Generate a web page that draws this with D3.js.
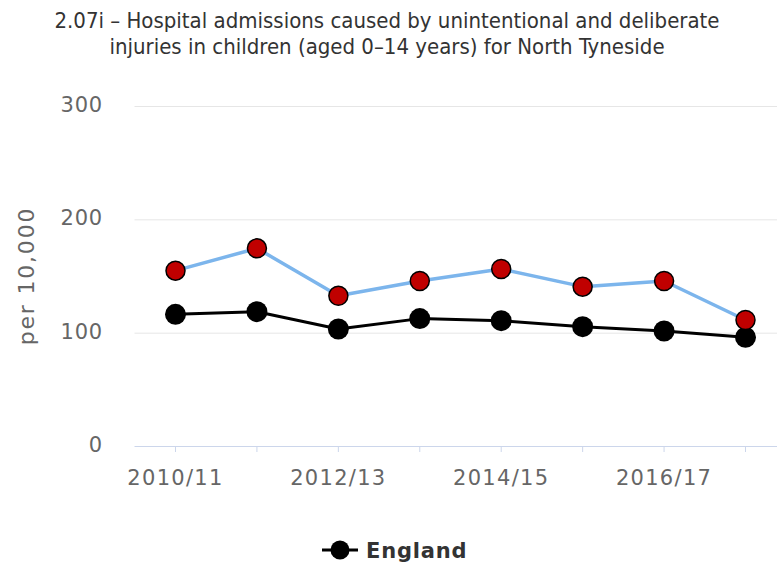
<!DOCTYPE html>
<html><head><meta charset="utf-8">
<script src="https://cdn.jsdelivr.net/npm/d3@7"></script>
<style>body{margin:0;background:#fff}svg{display:block}</style>
</head><body>
<svg id="c" width="777" height="566"></svg>
<script>
const categories = ["2010/11","2011/12","2012/13","2013/14","2014/15","2015/16","2016/17","2017/18"];
const northTyneside = [154.7,174.4,132.6,145.6,156.2,140.6,145.6,111.2];
const england = [116.2,118.5,103.2,112.4,110.6,105.3,101.5,95.9];
const yTicks = [0,100,200,300];
const titleLines = ["2.07i \u2013 Hospital admissions caused by unintentional and deliberate","injuries in children (aged 0\u201314 years) for North Tyneside"];

const svg = d3.select("#c");
const font = "'DejaVu Sans', Verdana, sans-serif";
const x = d3.scalePoint().domain(categories).range([175.5, 745.5]);
const y = d3.scaleLinear().domain([0,300]).range([446,106]);
const plotLeft = 134.5, plotRight = 777;

// title
svg.append("g").selectAll("text").data(titleLines).join("text")
  .attr("x",387).attr("y",(d,i)=>28+i*26).attr("text-anchor","middle")
  .attr("font-family",font).attr("font-stretch","condensed").attr("font-size",22).attr("fill","#333").text(d=>d);

// grid
svg.append("g").selectAll("line").data(yTicks.filter(d=>d>0)).join("line")
  .attr("x1",plotLeft).attr("x2",plotRight).attr("y1",d=>y(d)+0.5).attr("y2",d=>y(d)+0.5)
  .attr("stroke","#e6e6e6").attr("stroke-width",1);

// y labels
svg.append("g").selectAll("text").data(yTicks).join("text")
  .attr("x",103).attr("y",d=>y(d)+6).attr("text-anchor","end").attr("letter-spacing",0.8)
  .attr("font-family",font).attr("font-size",21).attr("fill","#666").text(d=>d);

// y title
svg.append("text").attr("transform","translate(34,276) rotate(-90)").attr("text-anchor","middle")
  .attr("letter-spacing",1.8)
  .attr("font-family",font).attr("font-size",22).attr("fill","#666").text("per 10,000");

// x axis
svg.append("line").attr("x1",plotLeft).attr("x2",plotRight).attr("y1",446.5).attr("y2",446.5)
  .attr("stroke","#ccd6eb").attr("stroke-width",1);
svg.append("g").selectAll("line").data(categories).join("line")
  .attr("x1",d=>x(d)).attr("x2",d=>x(d)).attr("y1",447).attr("y2",452)
  .attr("stroke","#ccd6eb").attr("stroke-width",1);
svg.append("g").selectAll("text").data(categories.filter((d,i)=>i%2===0)).join("text")
  .attr("x",d=>x(d)).attr("y",485).attr("text-anchor","middle").attr("letter-spacing",1.3)
  .attr("font-family",font).attr("font-size",21).attr("fill","#666").text(d=>d);

const line = d3.line().x((d,i)=>x(categories[i])).y(d=>y(d));

// England
svg.append("path").datum(england).attr("d",line).attr("fill","none").attr("stroke","#000").attr("stroke-width",3).attr("stroke-linejoin","round");
svg.append("g").selectAll("circle").data(england).join("circle")
  .attr("cx",(d,i)=>x(categories[i])).attr("cy",d=>y(d)).attr("r",10.5).attr("fill","#000");

// North Tyneside
svg.append("path").datum(northTyneside).attr("d",line).attr("fill","none").attr("stroke","#7cb5ec").attr("stroke-width",3.5).attr("stroke-linejoin","round");
svg.append("g").selectAll("circle").data(northTyneside).join("circle")
  .attr("cx",(d,i)=>x(categories[i])).attr("cy",d=>y(d)).attr("r",9.5).attr("fill","#c00000").attr("stroke","#000").attr("stroke-width",1.5);

// legend
const lg = svg.append("g");
lg.append("line").attr("x1",322).attr("x2",358).attr("y1",550).attr("y2",550).attr("stroke","#000").attr("stroke-width",3);
lg.append("circle").attr("cx",340).attr("cy",550).attr("r",9.5).attr("fill","#000");
lg.append("text").attr("x",366).attr("y",558).attr("font-family",font).attr("font-weight","bold").attr("letter-spacing",0.8)
  .attr("font-size",21).attr("fill","#333").text("England");
</script>
</body></html>
